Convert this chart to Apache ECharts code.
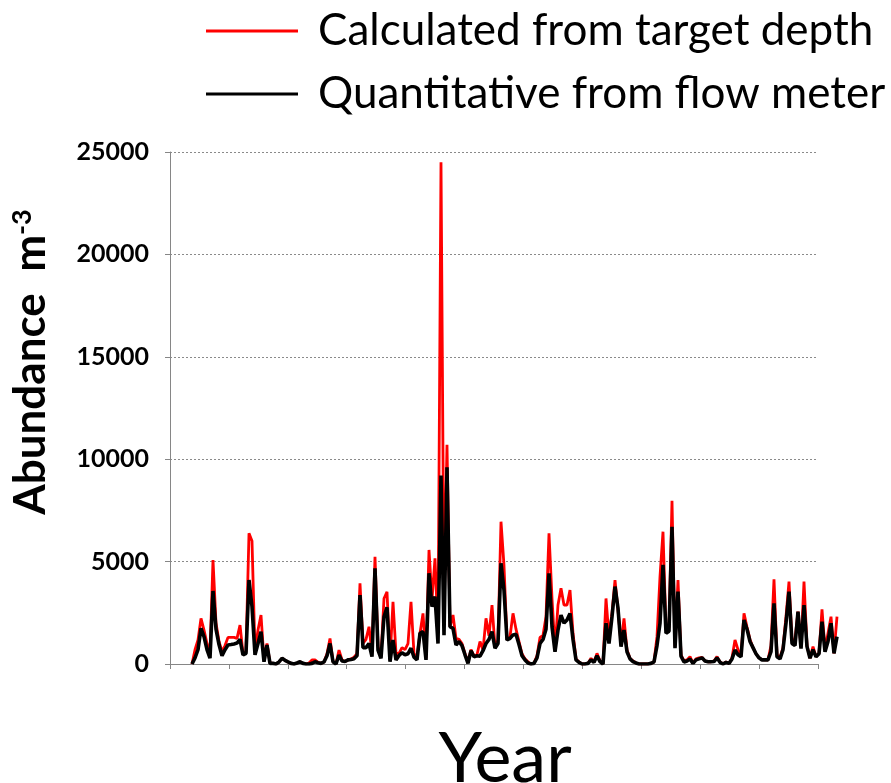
<!DOCTYPE html>
<html>
<head>
<meta charset="utf-8">
<script src="https://cdn.jsdelivr.net/npm/echarts@6/dist/echarts.min.js"></script>
<style>
html,body{margin:0;padding:0;background:#fff;}
#chart{width:891px;height:783px;}
</style>
</head>
<body>
<div id="chart"></div>
<script>
// Calculated from target depth (red)
const red = [
0,700,1170,2230,1660,1000,520,5080,2000,1100,
600,900,1300,1300,1300,1250,1900,520,600,6380,
6000,600,1660,2390,200,1000,50,30,0,100,
280,180,100,30,0,50,110,30,0,50,
200,200,80,30,100,500,1250,110,0,680,
200,120,200,250,330,500,3940,1000,1200,1820,
520,5240,850,360,3200,3530,200,3040,520,520,
800,700,1000,3040,500,360,1500,2470,280,5570,
3130,5160,1500,24500,3000,10700,1820,2390,1250,1200,
1000,500,110,700,400,450,1100,680,2230,1380,
2880,850,1170,6950,4800,1170,1335,2475,1700,1100,
500,250,110,0,50,400,1300,1400,2310,6380,
3200,700,2880,3700,2880,2880,3610,1500,250,100,
0,0,30,280,100,520,150,0,3200,1300,
2500,4100,2640,1000,2230,680,280,150,50,0,
0,0,0,30,100,1335,4270,6460,1660,1800,
7970,850,4100,440,150,200,360,50,250,300,
320,150,110,110,150,360,100,0,100,30,
300,1170,700,400,2475,1800,1200,800,500,300,
220,200,200,900,4140,440,300,800,2310,4020,
1170,1200,2560,800,4020,900,280,850,360,520,
2670,700,1500,2310,520,2310
];
// Quantitative from flow meter (black)
const black = [
0,300,700,1740,1335,700,280,3565,1700,950,
400,700,930,950,980,1020,1200,440,520,4100,
2800,450,1000,1580,110,930,30,30,0,100,
280,180,100,30,0,50,110,30,0,0,
30,110,60,30,100,400,1000,110,0,440,
150,120,200,220,260,400,3370,800,800,1000,
360,4670,680,280,2310,2770,110,1170,200,420,
550,450,500,770,330,200,1500,1580,200,4430,
2800,3290,1000,9200,1400,9600,1820,1740,930,1100,
900,450,30,650,350,400,380,650,1000,1200,
1580,770,1000,4920,3600,1170,1250,1420,1450,950,
400,200,50,0,30,300,1000,1200,1700,4430,
1820,600,1660,2390,2000,2150,2470,1200,200,80,
0,0,30,200,80,400,120,0,1990,1000,
2300,3780,2720,850,1660,600,250,120,50,0,
0,0,0,30,100,900,1990,4840,1500,1600,
6700,770,3530,380,100,150,250,30,200,250,
300,150,110,110,120,300,80,0,80,30,
250,680,450,350,2150,1700,1100,800,500,300,
200,200,200,600,2960,350,250,700,2000,3530,
1000,900,2560,750,2880,850,280,700,350,500,
2070,600,1100,1990,520,1335
];
const samples = red.map((_, i) => String(i + 1));
const yearTicks = ['', '', '', '', '', '', '', '', '', '', ''];
const seriesNames = ['Calculated from target depth', 'Quantitative from flow meter'];

const chart = echarts.init(document.getElementById('chart'), null, {renderer: 'canvas'});
const FONT = 'Lato';
chart.setOption({
  animation: false,
  backgroundColor: '#ffffff',
  legend: {
    orient: 'vertical',
    left: 206,
    top: 9,
    padding: 0,
    itemWidth: 92,
    itemHeight: 3,
    itemGap: 19,
    icon: 'rect',
    textStyle: {fontFamily: FONT, fontSize: 44, color: '#000', padding: [0, 0, 0, 15], lineHeight: 44},
    data: seriesNames
  },
  grid: [
    {left: 170, top: 152, width: 648, height: 512, containLabel: false, outerBoundsMode: 'none'},
    {left: 192, top: 152, width: 645, height: 512, containLabel: false, outerBoundsMode: 'none'}
  ],
  xAxis: [
    {
      type: 'category', gridIndex: 0, data: yearTicks, boundaryGap: true,
      axisLine: {lineStyle: {color: '#868686', width: 1}},
      axisTick: {show: true, length: 5, lineStyle: {color: '#868686'}},
      axisLabel: {show: false},
      splitLine: {show: false}
    },
    {
      type: 'category', gridIndex: 1, data: samples, boundaryGap: false,
      show: false
    }
  ],
  yAxis: [
    {
      type: 'value', gridIndex: 0, min: 0, max: 25000, interval: 5000,
      axisLine: {show: true, lineStyle: {color: '#868686', width: 1}},
      axisTick: {show: true, length: 5, lineStyle: {color: '#868686'}},
      axisLabel: {fontFamily: FONT, fontSize: 25, fontWeight: 'bold', color: '#000', margin: 21,
        formatter: function (v) { return String(v); }},
      splitLine: {show: true, lineStyle: {type: [2, 2], color: '#8a8a8a', width: 1}}
    },
    {
      type: 'value', gridIndex: 1, min: 0, max: 25000, interval: 5000, show: false,
      splitLine: {show: false}
    }
  ],
  graphic: [{
    type: 'text',
    x: 31, y: 362,
    rotation: Math.PI / 2,
    style: {
      text: '{a|Abundance  m}{s|-3}',
      rich: {
        a: {fontFamily: FONT, fontSize: 44, fontWeight: 'bold', fill: '#000', color: '#000'},
        s: {fontFamily: FONT, fontSize: 27, fontWeight: 'bold', fill: '#000', color: '#000', verticalAlign: 'top', padding: [0, 0, 16, 0]}
      },
      align: 'center',
      verticalAlign: 'middle',
      textAlign: 'center',
      textVerticalAlign: 'middle'
    }
  }, {
    type: 'text',
    x: 505, y: 759,
    style: {
      text: 'Year',
      fontFamily: FONT, fontSize: 70, fill: '#000',
      align: 'center', verticalAlign: 'middle',
      textAlign: 'center', textVerticalAlign: 'middle'
    }
  }],
  series: [
    {
      name: seriesNames[0], type: 'line', xAxisIndex: 1, yAxisIndex: 1,
      data: red, showSymbol: false, symbol: 'none',
      lineStyle: {color: '#ff0000', width: 2.8},
      itemStyle: {color: '#ff0000'}, z: 2
    },
    {
      name: seriesNames[1], type: 'line', xAxisIndex: 1, yAxisIndex: 1,
      data: black, showSymbol: false, symbol: 'none',
      lineStyle: {color: '#000000', width: 3.6},
      itemStyle: {color: '#000000'}, z: 3
    }
  ]
});
</script>
</body>
</html>
